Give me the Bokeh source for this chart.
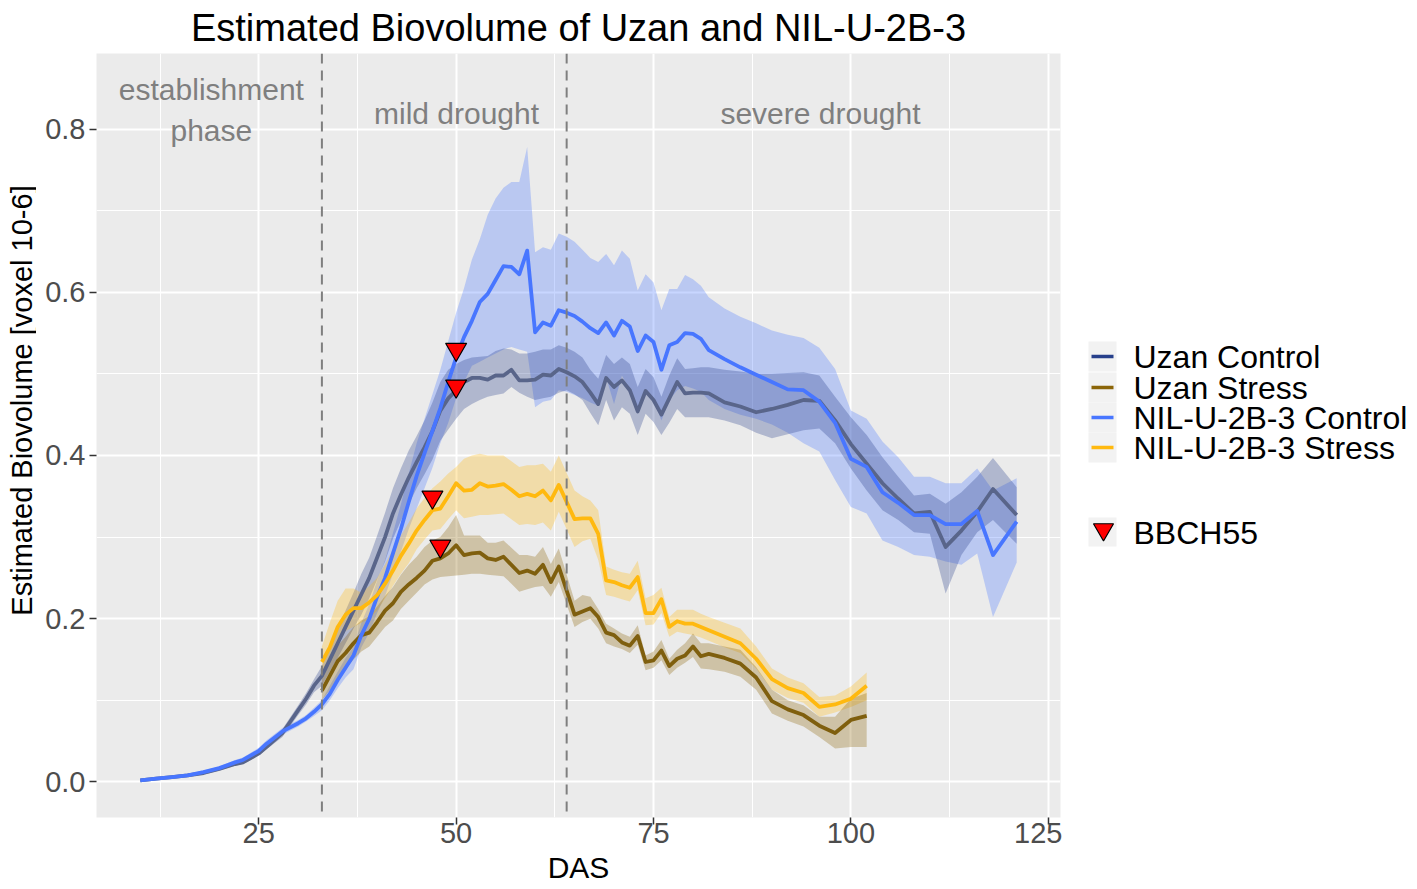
import math
from bokeh.plotting import figure
from bokeh.layouts import row
from bokeh.models import Range1d, FixedTicker, Span
from bokeh.core.properties import value
from bokeh.embed import file_html
from bokeh.resources import INLINE

FONT = "Liberation Sans"

# ---------------- data ----------------
das_ctrl = [10, 12, 14, 16, 18, 20, 22, 23, 25, 26, 28, 30, 31, 32,
            33, 34, 35, 36, 37, 38, 39, 40, 41, 42, 43, 44, 45, 46, 47, 48, 49, 50,
            51, 52, 53, 54, 55, 56, 57, 58, 59, 60, 61, 62, 63, 64, 65, 66, 67, 68,
            69, 70, 71, 72, 73, 74, 75, 76, 77, 78, 79, 80, 81, 82,
            84, 86, 88, 90, 92, 94, 96, 98, 100, 102, 104, 106, 108, 110, 112, 114, 116, 118, 121]

nil_ctrl_mean = [0.002, 0.004, 0.006, 0.008, 0.012, 0.017, 0.024, 0.027, 0.038, 0.047, 0.062, 0.072, 0.078, 0.086,
                 0.095, 0.108, 0.125, 0.140, 0.155, 0.180, 0.200, 0.227, 0.250, 0.280, 0.310, 0.343, 0.375, 0.403, 0.430, 0.458, 0.490, 0.520,
                 0.545, 0.565, 0.588, 0.598, 0.615, 0.632, 0.631, 0.622, 0.651, 0.551, 0.563, 0.559, 0.578, 0.575, 0.571, 0.564, 0.556, 0.550,
                 0.563, 0.547, 0.565, 0.558, 0.528, 0.547, 0.539, 0.505, 0.535, 0.539, 0.550, 0.549, 0.543, 0.529,
                 0.518, 0.508, 0.499, 0.490, 0.481, 0.480, 0.466, 0.440, 0.396, 0.386, 0.355, 0.342, 0.327, 0.327, 0.316, 0.316, 0.332, 0.278, 0.319]
nil_ctrl_lo = [0.001, 0.003, 0.004, 0.006, 0.010, 0.015, 0.021, 0.024, 0.034, 0.043, 0.058, 0.068, 0.074, 0.081,
               0.088, 0.100, 0.115, 0.128, 0.138, 0.165, 0.183, 0.207, 0.228, 0.255, 0.282, 0.310, 0.335, 0.360, 0.385, 0.415, 0.440, 0.470,
               0.490, 0.510, 0.515, 0.520, 0.525, 0.530, 0.533, 0.530, 0.527, 0.459, 0.466, 0.468, 0.480, 0.478, 0.474, 0.470, 0.465, 0.461,
               0.496, 0.463, 0.498, 0.480, 0.455, 0.480, 0.470, 0.443, 0.468, 0.480, 0.485, 0.482, 0.478, 0.468,
               0.457, 0.450, 0.445, 0.438, 0.428, 0.415, 0.405, 0.370, 0.337, 0.329, 0.296, 0.288, 0.278, 0.276, 0.270, 0.266, 0.280, 0.202, 0.269]
nil_ctrl_hi = [0.003, 0.005, 0.008, 0.010, 0.014, 0.019, 0.027, 0.030, 0.042, 0.051, 0.066, 0.076, 0.082, 0.091,
               0.100, 0.118, 0.135, 0.152, 0.165, 0.195, 0.218, 0.247, 0.272, 0.305, 0.340, 0.378, 0.415, 0.445, 0.475, 0.505, 0.540, 0.575,
               0.605, 0.640, 0.665, 0.695, 0.715, 0.728, 0.735, 0.735, 0.778, 0.649, 0.655, 0.652, 0.672, 0.668, 0.662, 0.652, 0.642, 0.637,
               0.647, 0.633, 0.651, 0.641, 0.602, 0.622, 0.612, 0.578, 0.604, 0.604, 0.621, 0.616, 0.608, 0.594,
               0.580, 0.570, 0.562, 0.553, 0.548, 0.544, 0.532, 0.506, 0.455, 0.445, 0.417, 0.398, 0.374, 0.374, 0.366, 0.366, 0.384, 0.357, 0.372]

uzan_ctrl_mean = [0.002, 0.004, 0.006, 0.008, 0.011, 0.016, 0.022, 0.024, 0.035, 0.043, 0.060, 0.088, 0.102, 0.118,
                  0.130, 0.150, 0.170, 0.190, 0.210, 0.230, 0.250, 0.275, 0.300, 0.329, 0.352, 0.373, 0.392, 0.410, 0.430, 0.455, 0.470, 0.480,
                  0.490, 0.495, 0.495, 0.493, 0.498, 0.498, 0.505, 0.492, 0.492, 0.493, 0.499, 0.498, 0.506, 0.502, 0.497, 0.490, 0.477, 0.463,
                  0.495, 0.484, 0.492, 0.480, 0.454, 0.479, 0.468, 0.450, 0.470, 0.490, 0.476, 0.477, 0.477, 0.476,
                  0.465, 0.460, 0.453, 0.457, 0.462, 0.468, 0.467, 0.443, 0.414, 0.390, 0.366, 0.347, 0.329, 0.331, 0.288, 0.308, 0.331, 0.359, 0.327]
uzan_ctrl_lo = [0.001, 0.003, 0.005, 0.007, 0.009, 0.014, 0.020, 0.022, 0.032, 0.040, 0.055, 0.082, 0.095, 0.110,
                0.118, 0.135, 0.152, 0.170, 0.188, 0.205, 0.225, 0.248, 0.270, 0.298, 0.320, 0.340, 0.360, 0.377, 0.395, 0.418, 0.432, 0.445,
                0.457, 0.463, 0.468, 0.472, 0.474, 0.476, 0.484, 0.477, 0.472, 0.468, 0.470, 0.472, 0.477, 0.480, 0.475, 0.468, 0.452, 0.437,
                0.468, 0.443, 0.459, 0.451, 0.425, 0.451, 0.441, 0.425, 0.440, 0.457, 0.447, 0.447, 0.447, 0.447,
                0.443, 0.437, 0.428, 0.421, 0.426, 0.431, 0.433, 0.415, 0.384, 0.357, 0.333, 0.321, 0.306, 0.304, 0.231, 0.278, 0.306, 0.321, 0.292]
uzan_ctrl_hi = [0.003, 0.005, 0.007, 0.009, 0.013, 0.018, 0.024, 0.026, 0.038, 0.046, 0.065, 0.094, 0.109, 0.126,
                0.142, 0.165, 0.188, 0.210, 0.232, 0.255, 0.275, 0.302, 0.330, 0.360, 0.384, 0.406, 0.424, 0.443, 0.465, 0.490, 0.505, 0.512,
                0.517, 0.520, 0.521, 0.522, 0.528, 0.531, 0.530, 0.525, 0.525, 0.527, 0.530, 0.530, 0.535, 0.532, 0.527, 0.520, 0.505, 0.494,
                0.523, 0.512, 0.520, 0.512, 0.484, 0.506, 0.496, 0.472, 0.498, 0.519, 0.506, 0.507, 0.508, 0.508,
                0.505, 0.503, 0.500, 0.500, 0.501, 0.502, 0.498, 0.472, 0.447, 0.425, 0.398, 0.374, 0.351, 0.353, 0.341, 0.355, 0.374, 0.397, 0.361]

das_stress = [33, 34, 35, 36, 37, 38, 39, 40, 41, 42, 43, 44, 45, 46, 47, 48, 49, 50,
              51, 52, 53, 54, 55, 56, 57, 58, 59, 60, 61, 62, 63,
              65, 66, 67, 68, 69, 70, 71, 72, 73, 74, 75, 76, 77, 78, 79, 80, 81, 82,
              84, 86, 88, 90, 92, 94, 96, 98, 100, 102]

nil_stress_mean = [0.147, 0.165, 0.190, 0.205, 0.213, 0.213, 0.220, 0.229, 0.243, 0.259, 0.277, 0.292, 0.308, 0.321, 0.333, 0.335, 0.350, 0.366,
                   0.357, 0.358, 0.366, 0.362, 0.363, 0.365, 0.358, 0.350, 0.353, 0.350, 0.357, 0.345, 0.364,
                   0.322, 0.323, 0.323, 0.304, 0.247, 0.245, 0.241, 0.238, 0.251, 0.207, 0.207, 0.224, 0.190, 0.197, 0.194, 0.194, 0.190, 0.186,
                   0.178, 0.170, 0.151, 0.126, 0.115, 0.109, 0.092, 0.095, 0.102, 0.118]
nil_stress_lo = [0.133, 0.150, 0.168, 0.185, 0.190, 0.195, 0.200, 0.210, 0.225, 0.240, 0.255, 0.268, 0.285, 0.297, 0.308, 0.310, 0.322, 0.333,
                 0.323, 0.325, 0.327, 0.327, 0.328, 0.329, 0.322, 0.315, 0.316, 0.315, 0.318, 0.308, 0.331,
                 0.288, 0.295, 0.298, 0.272, 0.229, 0.227, 0.224, 0.221, 0.235, 0.192, 0.193, 0.207, 0.178, 0.184, 0.182, 0.180, 0.177, 0.173,
                 0.165, 0.158, 0.139, 0.113, 0.103, 0.097, 0.080, 0.085, 0.092, 0.100]
nil_stress_hi = [0.166, 0.195, 0.222, 0.237, 0.237, 0.232, 0.240, 0.250, 0.267, 0.285, 0.302, 0.318, 0.335, 0.348, 0.360, 0.368, 0.378, 0.386,
                 0.396, 0.400, 0.402, 0.400, 0.400, 0.400, 0.393, 0.386, 0.388, 0.388, 0.390, 0.380, 0.400,
                 0.357, 0.350, 0.345, 0.333, 0.264, 0.260, 0.257, 0.255, 0.271, 0.225, 0.229, 0.238, 0.202, 0.211, 0.211, 0.211, 0.206, 0.202,
                 0.195, 0.188, 0.166, 0.139, 0.128, 0.121, 0.104, 0.106, 0.117, 0.134]

uzan_stress_mean = [0.112, 0.130, 0.148, 0.158, 0.170, 0.180, 0.183, 0.196, 0.210, 0.219, 0.233, 0.242, 0.250, 0.259, 0.271, 0.274, 0.280, 0.290,
                    0.278, 0.280, 0.281, 0.274, 0.272, 0.276, 0.266, 0.256, 0.259, 0.255, 0.266, 0.245, 0.264,
                    0.205, 0.209, 0.213, 0.202, 0.183, 0.180, 0.171, 0.167, 0.179, 0.147, 0.149, 0.161, 0.142, 0.151, 0.155, 0.166, 0.154, 0.157,
                    0.152, 0.145, 0.128, 0.099, 0.089, 0.082, 0.069, 0.060, 0.076, 0.081]
uzan_stress_lo = [0.100, 0.112, 0.128, 0.138, 0.150, 0.160, 0.166, 0.178, 0.190, 0.198, 0.212, 0.222, 0.232, 0.242, 0.248, 0.251, 0.252, 0.253,
                  0.254, 0.255, 0.255, 0.254, 0.253, 0.252, 0.243, 0.233, 0.236, 0.239, 0.240, 0.227, 0.245,
                  0.190, 0.196, 0.200, 0.188, 0.170, 0.166, 0.163, 0.158, 0.168, 0.137, 0.140, 0.149, 0.131, 0.140, 0.146, 0.153, 0.139, 0.138,
                  0.135, 0.129, 0.113, 0.084, 0.075, 0.068, 0.055, 0.041, 0.043, 0.043]
uzan_stress_hi = [0.135, 0.148, 0.167, 0.178, 0.190, 0.198, 0.203, 0.215, 0.228, 0.239, 0.254, 0.266, 0.276, 0.288, 0.296, 0.300, 0.312, 0.327,
                  0.302, 0.302, 0.302, 0.293, 0.293, 0.296, 0.287, 0.278, 0.278, 0.276, 0.288, 0.267, 0.286,
                  0.222, 0.229, 0.227, 0.212, 0.194, 0.188, 0.182, 0.178, 0.192, 0.155, 0.160, 0.174, 0.151, 0.162, 0.170, 0.182, 0.170, 0.170,
                  0.166, 0.162, 0.141, 0.113, 0.100, 0.094, 0.080, 0.080, 0.102, 0.109]

bbch_das = [50, 50, 47, 48]
bbch_val = [0.530, 0.485, 0.349, 0.289]

phase_bounds = [33, 64]
phase_labels = ["establishment", "phase", "mild drought", "severe drought"]

series_names = ["Uzan Control", "Uzan Stress", "NIL-U-2B-3 Control", "NIL-U-2B-3 Stress"]
series_key_colors = ["#27408B", "#8B6508", "#4876FF", "#FFB90F"]
bbch_label = "BBCH55"

x_ticks = [25, 50, 75, 100, 125]
x_minor = [12.5, 37.5, 62.5, 87.5, 112.5]
y_ticks = [0.0, 0.2, 0.4, 0.6, 0.8]
y_tick_labels = ["0.0", "0.2", "0.4", "0.6", "0.8"]
y_minor = [0.1, 0.3, 0.5, 0.7]

# ---------------- page geometry ----------------
PAGE_W, PAGE_H = 1417, 889
TOP, BOTTOM = 53, 72          # borders above / below the plotting frame
YLAB_W = 36
MAIN_W = 1026
LEG_W = PAGE_W - YLAB_W - MAIN_W
# the row layout aligns all frames vertically; side strips map y = PAGE_H - page_y
SIDE_Y = Range1d(BOTTOM, PAGE_H - TOP)

# ---------------- main figure ----------------
p = figure(width=MAIN_W, height=PAGE_H, output_backend="svg", toolbar_location=None,
           x_range=Range1d(4.45, 126.55), y_range=Range1d(-0.0435, 0.8925),
           min_border_left=60, min_border_right=2, min_border_top=TOP, min_border_bottom=BOTTOM)
p.background_fill_color = "#EBEBEB"
p.border_fill_color = "white"
p.outline_line_color = None

p.title.text = "Estimated Biovolume of Uzan and NIL-U-2B-3"
p.title.text_font = FONT
p.title.text_font_size = "38px"
p.title.text_font_style = "normal"
p.title.text_color = "black"
p.title.align = "center"
p.title.vertical_align = "top"
p.title.standoff = 5

for ax in (p.xaxis[0], p.yaxis[0]):
    ax.axis_line_color = None
    ax.major_tick_line_color = "#333333"
    ax.major_tick_line_width = 1.5
    ax.major_tick_out = 7
    ax.major_tick_in = 0
    ax.minor_tick_out = 0
    ax.minor_tick_in = 0
    ax.major_label_text_font = FONT
    ax.major_label_text_font_size = "29px"
    ax.major_label_text_color = "#4D4D4D"
    ax.axis_label_text_font = FONT
    ax.axis_label_text_font_size = "30px"
    ax.axis_label_text_font_style = "normal"
    ax.axis_label_text_color = "black"

p.xaxis.ticker = FixedTicker(ticks=x_ticks, minor_ticks=x_minor)
p.yaxis.ticker = FixedTicker(ticks=y_ticks, minor_ticks=y_minor)
p.yaxis.major_label_overrides = dict(zip(y_ticks, y_tick_labels))
p.xaxis.axis_label = "DAS"
p.xaxis.major_label_standoff = -2
p.xaxis.axis_label_standoff = 5
p.yaxis.major_label_standoff = 4

for g in (p.xgrid[0], p.ygrid[0]):
    g.grid_line_color = "white"
    g.grid_line_width = 2
    g.minor_grid_line_color = "white"
    g.minor_grid_line_width = 1

# ribbons
p.varea(x=das_ctrl, y1=nil_ctrl_lo, y2=nil_ctrl_hi, fill_color="#4876FF", fill_alpha=0.3)
p.varea(x=das_ctrl, y1=uzan_ctrl_lo, y2=uzan_ctrl_hi, fill_color="#27408B", fill_alpha=0.3)
p.varea(x=das_stress, y1=nil_stress_lo, y2=nil_stress_hi, fill_color="#FFB90F", fill_alpha=0.3)
p.varea(x=das_stress, y1=uzan_stress_lo, y2=uzan_stress_hi, fill_color="#8B6508", fill_alpha=0.3)

# mean lines
LW = 3.8
p.line(das_ctrl, uzan_ctrl_mean, line_color="#59658A", line_width=LW, line_join="round")
p.line(das_stress, uzan_stress_mean, line_color="#7F5F0E", line_width=LW, line_join="round")
p.line(das_ctrl, nil_ctrl_mean, line_color="#4876FF", line_width=LW, line_join="round")
p.line(das_stress, nil_stress_mean, line_color="#FFB90F", line_width=LW, line_join="round")

# phase separators
for b in phase_bounds:
    p.add_layout(Span(location=b, dimension="height", line_color="#7F7F7F",
                      line_width=2, line_dash="10 7"))

# phase labels
p.text(x=[19.0, 19.0, 50.05, 96.15], y=[0.848, 0.798, 0.819, 0.819], text=phase_labels,
       text_font=value(FONT), text_font_size="30px", text_color="#7F7F7F",
       text_align="center", text_baseline="middle")

# BBCH55 markers
p.scatter(bbch_das, bbch_val, marker="inverted_triangle", size=21,
          fill_color="#FF0000", line_color="black", line_width=1.2)


def side_strip(width):
    f = figure(width=width, height=PAGE_H, output_backend="svg", toolbar_location=None,
               x_range=Range1d(0, width), y_range=SIDE_Y,
               x_axis_type=None, y_axis_type=None,
               min_border_left=0, min_border_right=0,
               min_border_top=TOP, min_border_bottom=BOTTOM)
    f.outline_line_color = None
    f.background_fill_color = "white"
    f.border_fill_color = "white"
    return f


# ---------------- y-axis title (own strip, left) ----------------
ylab = side_strip(YLAB_W)
ylab.text(x=[21], y=[PAGE_H - 400], text=["Estimated Biovolume [voxel 10-6]"],
          angle=math.pi / 2, text_font=value(FONT), text_font_size="29px",
          text_color="black", text_align="center", text_baseline="middle")

# ---------------- legend (own strip, right) ----------------
leg = side_strip(LEG_W)

row_centers = [356, 387, 417, 447]        # page rows of the four series keys
key_top = [PAGE_H - (c - 15) for c in row_centers]
key_bot = [PAGE_H - (c + 15) for c in row_centers]
leg.quad(left=[26] * 4, right=[54] * 4, top=key_top, bottom=key_bot,
         fill_color="#F2F2F2", line_color=None)
leg.segment(x0=[29] * 4, x1=[51] * 4, y0=[PAGE_H - c for c in row_centers],
            y1=[PAGE_H - c for c in row_centers], line_color=series_key_colors, line_width=3.5)
leg.text(x=[71] * 4, y=[PAGE_H - c for c in row_centers], text=series_names,
         text_font=value(FONT), text_font_size="32px", text_color="black",
         text_align="left", text_baseline="middle")

bbch_row = 532
leg.quad(left=[26], right=[54], top=[PAGE_H - (bbch_row - 15)], bottom=[PAGE_H - (bbch_row + 14)],
         fill_color="#F2F2F2", line_color=None)
leg.scatter(x=[41], y=[PAGE_H - bbch_row + 3], marker="inverted_triangle", size=20,
            fill_color="#FF0000", line_color="black", line_width=1.2)
leg.text(x=[71], y=[PAGE_H - bbch_row], text=[bbch_label],
         text_font=value(FONT), text_font_size="32px", text_color="black",
         text_align="left", text_baseline="middle")

layout = row(ylab, p, leg, spacing=0)
open("out.html", "w").write(file_html(layout, INLINE))
